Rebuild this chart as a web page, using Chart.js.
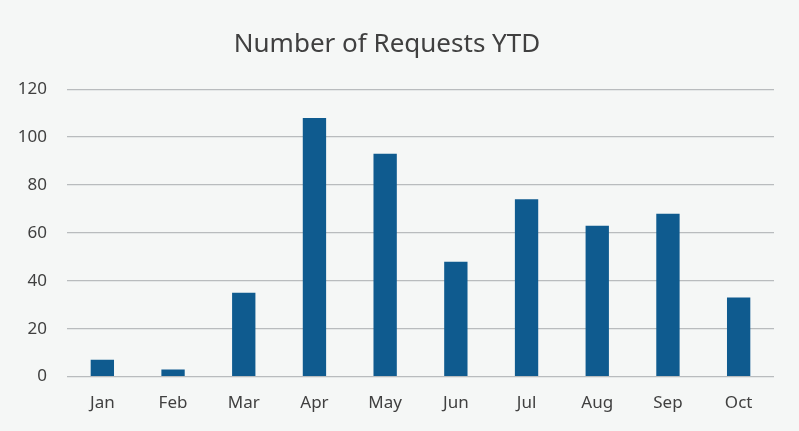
<!DOCTYPE html>
<html>
<head>
<meta charset="utf-8">
<script src="https://cdn.jsdelivr.net/npm/chart.js@4"></script>
<style>
  html, body { margin: 0; padding: 0; background: #f5f7f6; }
  #wrap { width: 799px; height: 431px; position: relative; }
</style>
</head>
<body>
<div id="wrap"><canvas id="chart" width="799" height="431"></canvas></div>
<script>
// ---- data ----
const MONTHS = ["Jan", "Feb", "Mar", "Apr", "May", "Jun", "Jul", "Aug", "Sep", "Oct"];
const REQUESTS = [7, 3, 35, 108, 93, 48, 74, 63, 68, 33];
const Y_MAX = 120;
const Y_STEP = 20;
const TITLE = "Number of Requests YTD";

const BAR_COLOR = "#0f5b8f";
const TEXT_COLOR = "#404040";
const GRID_COLOR = "#b9bcbe";

const ctx = document.getElementById("chart");
new Chart(ctx, {
  type: "bar",
  data: {
    labels: MONTHS,
    datasets: [{
      label: TITLE,
      data: REQUESTS,
      backgroundColor: BAR_COLOR,
      categoryPercentage: 1,
      barPercentage: 0.33
    }]
  },
  options: {
    responsive: false,
    animation: false,
    layout: { padding: { left: 0, right: 25, top: 29, bottom: 2 } },
    plugins: {
      legend: { display: false },
      tooltip: { enabled: false },
      title: {
        display: true,
        text: TITLE,
        color: TEXT_COLOR,
        font: { family: "Noto Sans", size: 26, weight: "normal" },
        padding: { top: 0, bottom: 29 }
      }
    },
    scales: {
      x: {
        grid: { display: false, drawTicks: false },
        border: { display: false },
        ticks: {
          color: TEXT_COLOR,
          font: { family: "Noto Sans", size: 17 },
          padding: 16
        }
      },
      y: {
        min: 0,
        max: Y_MAX,
        afterFit: (scale) => { scale.width = 67; },
        grid: { color: GRID_COLOR, lineWidth: 1.3, drawTicks: false },
        border: { display: false },
        ticks: {
          stepSize: Y_STEP,
          color: TEXT_COLOR,
          font: { family: "Noto Sans", size: 17 },
          padding: 20
        }
      }
    }
  }
});
</script>
</body>
</html>
